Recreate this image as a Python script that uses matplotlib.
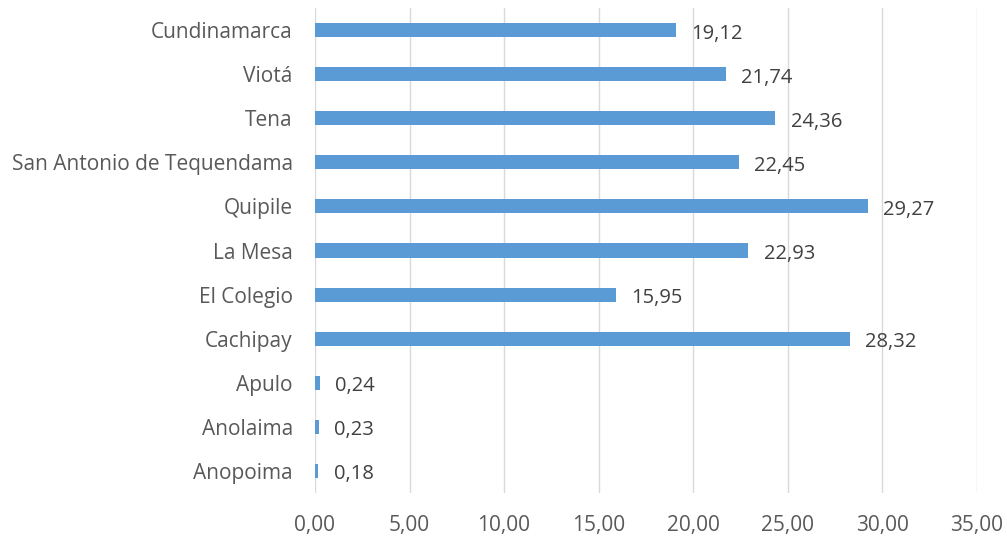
import matplotlib.pyplot as plt

municipios = ["Anopoima", "Anolaima", "Apulo", "Cachipay", "El Colegio", "La Mesa",
              "Quipile", "San Antonio de Tequendama", "Tena", "Viotá", "Cundinamarca"]
valores = [0.18, 0.23, 0.24, 28.32, 15.95, 22.93, 29.27, 22.45, 24.36, 21.74, 19.12]
ticks = [0, 5, 10, 15, 20, 25, 30, 35]

plt.rcParams['font.family'] = ['Open Sans', 'DejaVu Sans']

fig = plt.figure(figsize=(10.07, 5.37), dpi=100)
ax = fig.add_axes([0.3128, 0.082, 0.657, 0.903])

y = range(len(municipios))
ax.barh(y, valores, height=0.32, color="#5B9BD5", zorder=3)
for i, v in enumerate(valores):
    ax.text(v + 0.8, i - 0.08, f"{v:.2f}".replace(".", ","), va="center", ha="left",
            fontsize=14.5, color="#404040")

ax.set_yticks(list(y))
ax.set_yticklabels(municipios, fontsize=15, color="#595959")
ax.set_xticks(ticks)
ax.set_xticklabels([f"{t:.2f}".replace(".", ",") for t in ticks], fontsize=15, color="#595959")
ax.set_xlim(0, 35)
ax.set_ylim(-0.5, len(municipios) - 0.5)
ax.grid(axis="x", color="#D9D9D9", linewidth=1, zorder=0)
for s in ax.spines.values():
    s.set_visible(False)
ax.tick_params(length=0)
ax.tick_params(axis="x", pad=16)
ax.tick_params(axis="y", pad=16)

fig.savefig("out.png")
